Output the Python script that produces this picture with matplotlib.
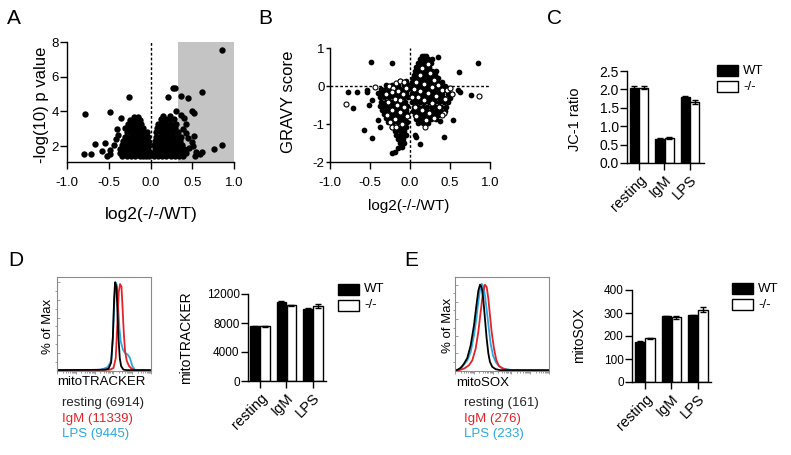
import matplotlib
matplotlib.use("Agg")
import matplotlib.pyplot as plt
from matplotlib.patches import Rectangle

plt.rcParams['font.family'] = ['Liberation Sans', 'DejaVu Sans']
plt.rcParams['axes.linewidth'] = 1.0
plt.rcParams['xtick.major.width'] = 1.0
plt.rcParams['ytick.major.width'] = 1.0

W, H = 791, 455
RED = '#e3232a'
CYAN = '#2aa8df'

# ---------------- data ----------------
# A: volcano plot, isolated points (x, y)
a_out = [(0.86, 7.54), (0.62, 5.10), (0.27, 5.33), (0.29, 5.33), (0.21, 4.80), (0.37, 4.90),
         (0.45, 4.75), (-0.26, 4.80), (-0.78, 3.85), (-0.48, 3.94), (0.31, 4.00), (0.50, 4.00),
         (0.525, 3.90), (0.86, 2.06), (0.76, 1.81), (0.62, 1.63), (0.59, 1.55), (0.545, 1.67),
         (0.53, 1.45), (0.51, 2.00), (0.525, 2.60), (0.50, 2.25), (0.43, 3.30), (0.40, 3.60),
         (0.37, 3.80), (0.39, 3.00), (0.42, 2.73), (0.45, 2.44), (0.46, 1.87), (-0.80, 1.52),
         (-0.71, 1.52), (-0.66, 2.12), (-0.58, 1.71), (-0.54, 2.20), (-0.52, 1.42), (-0.49, 1.77),
         (-0.48, 1.52), (-0.44, 2.06), (-0.40, 2.98), (-0.35, 3.60), (-0.385, 2.63), (-0.41, 2.40)]
# A: dense clusters, rows of (y, [x...])
a_left_rows = [
    (1.42, [-0.34, -0.28, -0.23, -0.18, -0.13, -0.09, -0.05, -0.02]),
    (1.60, [-0.36, -0.31, -0.25, -0.20, -0.15, -0.11, -0.06, -0.03]),
    (1.82, [-0.37, -0.30, -0.26, -0.21, -0.16, -0.12, -0.07, -0.03]),
    (2.05, [-0.34, -0.28, -0.23, -0.19, -0.14, -0.09, -0.05, -0.02]),
    (2.30, [-0.33, -0.27, -0.22, -0.16, -0.11, -0.07, -0.03]),
    (2.55, [-0.30, -0.25, -0.20, -0.15, -0.10, -0.06, -0.03]),
    (2.80, [-0.28, -0.22, -0.17, -0.12, -0.08, -0.04]),
    (3.05, [-0.30, -0.24, -0.19, -0.14, -0.09]),
    (3.30, [-0.27, -0.21, -0.16, -0.11]),
    (3.52, [-0.24, -0.19, -0.13]),
    (3.68, [-0.20, -0.15]),
]
a_right_rows = [
    (1.42, [0.04, 0.09, 0.14, 0.19, 0.24, 0.29, 0.34, 0.39]),
    (1.60, [0.03, 0.07, 0.12, 0.17, 0.22, 0.27, 0.32, 0.37, 0.42]),
    (1.82, [0.05, 0.10, 0.15, 0.20, 0.25, 0.30, 0.35, 0.40]),
    (2.05, [0.04, 0.08, 0.13, 0.18, 0.23, 0.28, 0.33, 0.38]),
    (2.30, [0.05, 0.10, 0.15, 0.20, 0.25, 0.30, 0.35]),
    (2.55, [0.06, 0.11, 0.16, 0.21, 0.26, 0.31, 0.36]),
    (2.80, [0.07, 0.12, 0.17, 0.22, 0.27, 0.33]),
    (3.05, [0.08, 0.13, 0.18, 0.23, 0.29]),
    (3.30, [0.09, 0.14, 0.19, 0.25, 0.31]),
    (3.55, [0.12, 0.17, 0.22, 0.28]),
    (3.75, [0.15, 0.23]),
]

# B: GRAVY score, filled points
b_out = [(-0.49, 0.64), (-0.22, 0.60), (0.85, 0.60), (0.61, 0.36), (-0.78, -0.15), (-0.66, -0.17),
         (-0.54, -0.10), (-0.54, -0.15), (-0.71, -0.59), (-0.51, -0.50), (-0.48, -0.37),
         (-0.58, -1.16), (-0.48, -1.38), (0.76, -0.24), (0.60, -0.10), (0.625, -0.17),
         (0.42, -1.35), (0.12, -1.53), (0.375, -0.92), (0.54, -0.90), (-0.40, -0.89),
         (-0.375, -1.07), (-0.23, -1.75), (-0.19, -1.73), (-0.15, -1.64), (-0.10, -1.61),
         (0.08, -1.33), (0.06, -1.29), (0.18, 0.79), (0.35, 0.77)]
b_left_rows = [
    (0.12, [-0.12, -0.05]),
    (0.02, [-0.30, -0.22, -0.15, -0.08, -0.03]),
    (-0.08, [-0.36, -0.30, -0.25, -0.19, -0.13, -0.07, -0.03]),
    (-0.19, [-0.40, -0.34, -0.28, -0.22, -0.17, -0.11, -0.05]),
    (-0.30, [-0.38, -0.32, -0.26, -0.20, -0.14, -0.08, -0.03]),
    (-0.41, [-0.36, -0.30, -0.24, -0.18, -0.12, -0.06]),
    (-0.52, [-0.38, -0.33, -0.27, -0.21, -0.15, -0.09, -0.04]),
    (-0.63, [-0.35, -0.29, -0.23, -0.17, -0.11, -0.05]),
    (-0.74, [-0.33, -0.27, -0.21, -0.15, -0.09, -0.04]),
    (-0.85, [-0.30, -0.24, -0.18, -0.12, -0.06]),
    (-0.96, [-0.27, -0.21, -0.15, -0.09, -0.04]),
    (-1.07, [-0.22, -0.16, -0.10, -0.05]),
    (-1.18, [-0.19, -0.13, -0.07]),
    (-1.29, [-0.17, -0.11, -0.05]),
    (-1.40, [-0.15, -0.09]),
    (-1.50, [-0.13, -0.07]),
]
b_right_rows = [
    (0.80, [0.15, 0.20]),
    (0.70, [0.12, 0.17, 0.22, 0.28]),
    (0.60, [0.10, 0.15, 0.20, 0.26]),
    (0.50, [0.08, 0.13, 0.18, 0.24]),
    (0.40, [0.06, 0.11, 0.16, 0.21, 0.27, 0.33]),
    (0.30, [0.05, 0.10, 0.15, 0.20, 0.25, 0.31]),
    (0.20, [0.04, 0.09, 0.14, 0.19, 0.24, 0.29, 0.35]),
    (0.10, [0.03, 0.08, 0.13, 0.18, 0.23, 0.28, 0.34, 0.40]),
    (0.00, [0.03, 0.07, 0.12, 0.17, 0.22, 0.27, 0.32, 0.38, 0.44]),
    (-0.10, [0.04, 0.09, 0.14, 0.19, 0.24, 0.30, 0.36, 0.42, 0.48]),
    (-0.21, [0.03, 0.08, 0.13, 0.18, 0.23, 0.28, 0.34, 0.40, 0.47, 0.53]),
    (-0.32, [0.04, 0.09, 0.14, 0.20, 0.25, 0.31, 0.37, 0.43, 0.50]),
    (-0.43, [0.03, 0.08, 0.13, 0.18, 0.24, 0.30, 0.36, 0.42, 0.48]),
    (-0.54, [0.05, 0.10, 0.16, 0.21, 0.27, 0.33, 0.39, 0.45]),
    (-0.65, [0.04, 0.09, 0.14, 0.20, 0.26, 0.32, 0.38, 0.44]),
    (-0.76, [0.06, 0.11, 0.17, 0.23, 0.29, 0.35]),
    (-0.87, [0.08, 0.14, 0.20, 0.26, 0.32]),
    (-0.98, [0.10, 0.16, 0.22]),
]
# B: open points
b_open = [(-0.80, -0.48), (-0.44, -0.02), (0.86, -0.25), (-0.29, -0.76), (0.19, -1.07), (0.42, -0.72),
          (-0.26, 0.01), (-0.17, 0.07), (-0.12, 0.14), (-0.07, 0.10), (-0.21, -0.05), (-0.30, -0.22),
          (-0.23, -0.17), (-0.15, -0.12), (-0.09, -0.20), (-0.05, -0.05), (-0.19, -0.33), (-0.12, -0.38),
          (-0.27, -0.42), (-0.16, -0.50), (-0.08, -0.55), (-0.22, -0.62), (-0.13, -0.68), (-0.04, -0.80),
          (-0.19, -0.86), (-0.23, -1.07), (-0.17, -1.08), (-0.10, -1.00), (-0.25, -0.95),
          (0.15, 0.47), (0.22, 0.58), (0.12, 0.30), (0.25, 0.35), (0.30, 0.15), (0.08, 0.10),
          (0.18, 0.05), (0.27, -0.02), (0.35, 0.03), (0.05, -0.07), (0.13, -0.12), (0.22, -0.18),
          (0.40, -0.10), (0.46, -0.10), (0.50, -0.05), (0.32, -0.25), (0.10, -0.30), (0.18, -0.38),
          (0.44, -0.33), (0.27, -0.45), (0.36, -0.55), (0.06, -0.55), (0.15, -0.62), (0.24, -0.70),
          (0.40, -0.75), (0.30, -0.85), (0.08, -0.80), (0.52, -0.20), (0.03, -0.30), (0.20, -0.90)]

# C / D / E bar charts
groups = ['resting', 'IgM', 'LPS']
jc1_wt = [2.05, 0.65, 1.78]
jc1_wt_err = [0.03, 0.02, 0.03]
jc1_ko = [2.05, 0.68, 1.65]
jc1_ko_err = [0.03, 0.02, 0.06]
mt_wt = [7570, 10890, 9970]
mt_wt_err = [80, 120, 100]
mt_ko = [7550, 10430, 10385]
mt_ko_err = [80, 100, 250]
sox_wt = [173, 286, 290]
sox_wt_err = [4, 3, 3]
sox_ko = [190, 281, 315]
sox_ko_err = [3, 6, 12]

# D histograms (channel position 0-100, % of max)
d_rest_x = [0, 40, 51.2, 54.8, 57.6, 59.4, 60.8, 61.8, 63.3, 64.3, 65.4, 66.8, 68.2, 70.7, 74.2, 100]
d_rest_y = [0.5, 0.8, 1, 2, 9, 37, 82, 100, 95, 67, 37, 14, 5, 1, 0.5, 0.4]
d_igm_x = [0, 45, 56.5, 60.1, 62.5, 64.3, 65.7, 67.1, 68.6, 69.6, 71.0, 72.4, 74.2, 76.7, 79.5, 83.0, 100]
d_igm_y = [0.5, 0.8, 1, 3, 14, 55, 89, 98, 95, 74, 44, 22, 11, 5, 2, 0.5, 0.3]
d_lps_x = [0, 30, 44.2, 49.5, 54.1, 57.6, 59.4, 60.8, 62.2, 63.6, 65.0, 66.4, 67.8, 70.0, 72.4,
           75.3, 77.7, 80.2, 83.0, 90.1, 100]
d_lps_y = [0.5, 0.8, 0.5, 2, 4, 11, 37, 74, 100, 97, 74, 48, 33, 24, 20, 18, 14, 5, 0.8, 0.5, 0.5]

# E histograms
e_rest_x = [0, 2.5, 6.0, 9.6, 13.1, 16.7, 20.2, 22.7, 24.8, 26.6, 28.4, 30.1, 31.9, 33.7, 35.5,
            37.2, 39.7, 43.3, 48.6, 100]
e_rest_y = [0.3, 0.8, 3.1, 8.1, 14.7, 29.5, 52.7, 75.2, 93, 100, 97, 83.3, 60, 37, 19.8, 10,
            4.3, 1.6, 0.4, 0.3]
e_igm_x = [0, 4.3, 9.6, 14.9, 18.4, 22.0, 24.8, 27.3, 29.8, 31.9, 33.7, 35.5, 37.2, 39.0, 41.5,
           44.0, 46.8, 50.4, 55.7, 68.1, 100]
e_igm_y = [0.3, 0.4, 2.3, 6.2, 12, 25.6, 45, 68.2, 91.5, 100, 97.3, 83.7, 64.3, 45, 25.6, 12,
           5.4, 2.3, 0.8, 0.4, 0.3]
e_lps_x = [0, 2.5, 7.8, 13.1, 16.7, 20.2, 22.7, 24.8, 27.0, 28.4, 30.1, 31.9, 34.4, 36.2, 37.9,
           40.4, 43.3, 46.8, 52.1, 59.2, 100]
e_lps_y = [0.3, 0.4, 4.3, 12, 21.7, 41, 60.5, 80, 97.3, 101, 98.4, 87.6, 64.3, 46.9, 31.4, 17.8,
           10, 5, 2.3, 0.8, 0.4]


# ---------------- helpers ----------------
def px_axes(fig, left, top, right, bottom):
    return fig.add_axes([left / W, 1 - bottom / H, (right - left) / W, (bottom - top) / H])


def rows_to_xy(rows):
    xs, ys = [], []
    for y, xlist in rows:
        xs += xlist
        ys += [y] * len(xlist)
    return xs, ys


def clean(ax):
    ax.spines['top'].set_visible(False)
    ax.spines['right'].set_visible(False)


def bar_panel(ax, wt, wt_err, ko, ko_err):
    pos = range(len(groups))
    ax.bar([p - 0.19 for p in pos], wt, 0.36, yerr=wt_err, color='black', edgecolor='black',
           lw=1, error_kw=dict(ecolor='black', elinewidth=1, capsize=2, capthick=1))
    ax.bar([p + 0.19 for p in pos], ko, 0.36, yerr=ko_err, color='white', edgecolor='black',
           lw=1, error_kw=dict(ecolor='black', elinewidth=1, capsize=2, capthick=1))
    ax.set_xticks(list(pos))
    ax.set_xticklabels(groups, rotation=45, ha='right', rotation_mode='anchor', fontsize=10.5)
    ax.tick_params(axis='x', length=5, pad=2)
    ax.tick_params(axis='y', length=5, pad=1)
    clean(ax)


def box_legend(fig, x, y):
    for i, (lab, fc) in enumerate([('WT', 'black'), ('-/-', 'white')]):
        fig.add_artist(Rectangle((x / W, 1 - (y + 16 * i + 11) / H), 21 / W, 11 / H, fc=fc,
                                 ec='black', lw=1, transform=fig.transFigure))
        fig.text((x + 26) / W, 1 - (y + 16 * i + 5.5) / H, lab, va='center', fontsize=9.5)


def hist_panel(ax, curves, ylim_top):
    for xs, ys, c in curves:
        ax.plot(xs, ys, color=c, lw=1.3)
    ax.set_xlim(0, 100)
    ax.set_ylim(-0.5, ylim_top)
    for s in ax.spines.values():
        s.set_color('#8a8a8a')
        s.set_linewidth(0.8)
    ax.set_xticks([0, 20, 40, 60, 80, 100])
    ax.set_xticks([d * 20 + m for d in range(5) for m in (6, 9.5, 12, 14, 15.6, 16.9, 18, 19)],
                  minor=True)
    ax.set_yticks(range(0, 101, 20))
    ax.set_yticks(range(0, 101, 10), minor=True)
    ax.tick_params(which='both', labelbottom=False, labelleft=False, color='#8a8a8a', width=0.6)
    ax.tick_params(which='major', length=2.5)
    ax.tick_params(which='minor', length=1.2)
    ax.tick_params(axis='y', direction='in')


fig = plt.figure(figsize=(W / 100, H / 100), dpi=100)

# ---------------- A ----------------
ax = px_axes(fig, 67, 42, 234, 162)
ax.axvspan(0.33, 1.0, color='#c4c4c4', lw=0, zorder=0)
ax.axvline(0, color='black', lw=1, ls=(0, (2, 1.5)), zorder=1)
lx, ly = rows_to_xy(a_left_rows)
rx, ry = rows_to_xy(a_right_rows)
ax.scatter(lx + rx + [p[0] for p in a_out], ly + ry + [p[1] for p in a_out], s=21,
           color='black', lw=0, zorder=3, clip_on=False)
ax.set_xlim(-1, 1)
ax.set_ylim(1.08, 8)
ax.set_xticks([-1.0, -0.5, 0.0, 0.5, 1.0])
ax.set_xticklabels(['-1.0', '-0.5', '0.0', '0.5', '1.0'], fontsize=9.5)
ax.set_yticks([2, 4, 6, 8])
ax.set_yticklabels(['2', '4', '6', '8'], fontsize=9.5)
ax.tick_params(axis='x', length=5, pad=6)
ax.tick_params(axis='y', length=5, pad=1)
clean(ax)
ax.set_ylabel('-log(10) p value', fontsize=12)
ax.yaxis.set_label_coords(-0.105, 0.475)
ax.set_xlabel('log2(-/-/WT)', fontsize=12.5)
ax.xaxis.set_label_coords(0.507, -0.375)

# ---------------- B ----------------
ax = px_axes(fig, 330, 48, 490, 162)
ax.axvline(0, color='black', lw=1, ls=(0, (2, 1.5)), zorder=1)
ax.axhline(0, color='black', lw=1, ls=(0, (2, 1.5)), zorder=1)
lx, ly = rows_to_xy(b_left_rows)
rx, ry = rows_to_xy(b_right_rows)
ax.scatter(lx + rx + [p[0] for p in b_out], ly + ry + [p[1] for p in b_out], s=17,
           color='black', lw=0, zorder=3)
ax.scatter([p[0] for p in b_open], [p[1] for p in b_open], s=13, facecolor='white',
           edgecolor='black', lw=0.8, zorder=4)
ax.set_xlim(-1, 1)
ax.set_ylim(-2, 1)
ax.set_xticks([-1.0, -0.5, 0.0, 0.5, 1.0])
ax.set_xticklabels(['-1.0', '-0.5', '0.0', '0.5', '1.0'], fontsize=9.5)
ax.set_yticks([-2, -1, 0, 1])
ax.set_yticklabels(['-2', '-1', '0', '1'], fontsize=9.5)
ax.tick_params(axis='x', length=5, pad=6)
ax.tick_params(axis='y', length=3, pad=1)
clean(ax)
ax.set_ylabel('GRAVY score', fontsize=12)
ax.yaxis.set_label_coords(-0.21, 0.53)
ax.set_xlabel('log2(-/-/WT)', fontsize=11)
ax.xaxis.set_label_coords(0.49, -0.325)

# ---------------- C ----------------
ax = px_axes(fig, 627, 71, 704, 163)
bar_panel(ax, jc1_wt, jc1_wt_err, jc1_ko, jc1_ko_err)
ax.set_xlim(-0.47, 2.55)
ax.set_ylim(0, 2.5)
ax.set_yticks([0, 0.5, 1.0, 1.5, 2.0, 2.5])
ax.set_yticklabels(['0.0', '0.5', '1.0', '1.5', '2.0', '2.5'], fontsize=10)
ax.set_ylabel('JC-1 ratio', fontsize=10.5)
ax.yaxis.set_label_coords(-0.58, 0.48)
box_legend(fig, 717, 65)

# ---------------- D ----------------
ax = px_axes(fig, 57, 277, 151, 371)
hist_panel(ax, [(d_lps_x, d_lps_y, CYAN), (d_igm_x, d_igm_y, RED), (d_rest_x, d_rest_y, 'black')],
           106)
ax.text(-0.096, 0.47, '% of Max', rotation=90, transform=ax.transAxes, ha='center', va='center',
        fontsize=9.5)
ax.text(0.0, -0.117, 'mitoTRACKER', transform=ax.transAxes, ha='left', va='center', fontsize=9.5)
ax.text(0.053, -0.34, 'resting (6914)', transform=ax.transAxes, ha='left', va='center',
        fontsize=9.5, color='#222222')
ax.text(0.053, -0.51, 'IgM (11339)', transform=ax.transAxes, ha='left', va='center',
        fontsize=9.5, color=RED)
ax.text(0.053, -0.67, 'LPS (9445)', transform=ax.transAxes, ha='left', va='center',
        fontsize=9.5, color=CYAN)

ax = px_axes(fig, 248, 294, 326, 381)
bar_panel(ax, mt_wt, mt_wt_err, mt_ko, mt_ko_err)
ax.set_xlim(-0.45, 2.5)
ax.set_ylim(0, 12000)
ax.set_yticks([0, 4000, 8000, 12000])
ax.set_yticklabels(['0', '4000', '8000', '12000'], fontsize=8.5)
ax.set_ylabel('mitoTRACKER', fontsize=10)
ax.yaxis.set_label_coords(-0.71, 0.5)
box_legend(fig, 338, 284)

# ---------------- E ----------------
ax = px_axes(fig, 455, 277, 549, 371)
hist_panel(ax, [(e_lps_x, e_lps_y, CYAN), (e_igm_x, e_igm_y, RED), (e_rest_x, e_rest_y, 'black')],
           109)
ax.text(-0.074, 0.48, '% of Max', rotation=90, transform=ax.transAxes, ha='center', va='center',
        fontsize=9.5)
ax.text(0.01, -0.124, 'mitoSOX', transform=ax.transAxes, ha='left', va='center', fontsize=9.5)
ax.text(0.096, -0.34, 'resting (161)', transform=ax.transAxes, ha='left', va='center',
        fontsize=9.5, color='#222222')
ax.text(0.096, -0.51, 'IgM (276)', transform=ax.transAxes, ha='left', va='center',
        fontsize=9.5, color=RED)
ax.text(0.096, -0.67, 'LPS (233)', transform=ax.transAxes, ha='left', va='center',
        fontsize=9.5, color=CYAN)

ax = px_axes(fig, 632, 290, 711, 382)
bar_panel(ax, sox_wt, sox_wt_err, sox_ko, sox_ko_err)
ax.set_xlim(-0.49, 2.5)
ax.set_ylim(0, 400)
ax.set_yticks([0, 100, 200, 300, 400])
ax.set_yticklabels(['0', '100', '200', '300', '400'], fontsize=8.5)
ax.set_ylabel('mitoSOX', fontsize=10)
ax.yaxis.set_label_coords(-0.58, 0.51)
box_legend(fig, 732, 283)

# panel letters
for lab, x, y in [('A', 7, 18), ('B', 258, 19), ('C', 547, 19), ('D', 8, 260), ('E', 404, 260)]:
    fig.text(x / W, 1 - y / H, lab, fontsize=15, va='center', ha='left')

fig.savefig('out.png', dpi=100)
